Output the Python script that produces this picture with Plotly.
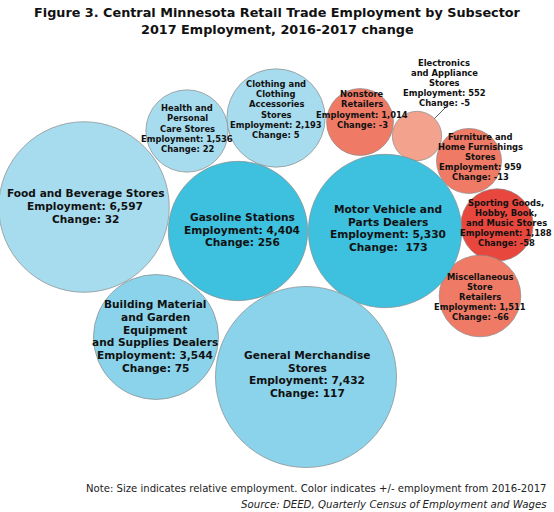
import plotly.graph_objects as go
import math

# ---- data ----
subsectors = [
    "Food and Beverage Stores", "Health and Personal Care Stores",
    "Clothing and Clothing Accessories Stores", "Nonstore Retailers",
    "Electronics and Appliance Stores", "Furniture and Home Furnishings Stores",
    "Sporting Goods, Hobby, Book, and Music Stores", "Miscellaneous Store Retailers",
    "Gasoline Stations", "Motor Vehicle and Parts Dealers",
    "Building Material and Garden Equipment and Supplies Dealers",
    "General Merchandise Stores",
]
employment = [6597, 1536, 2193, 1014, 552, 959, 1188, 1511, 4404, 5330, 3544, 7432]
change = [32, 22, 5, -3, -5, -13, -58, -66, 256, 173, 75, 117]
label_lines = [
    ["Food and Beverage Stores"],
    ["Health and", "Personal", "Care Stores"],
    ["Clothing and", "Clothing", "Accessories", "Stores"],
    ["Nonstore", "Retailers"],
    ["Electronics", "and Appliance", "Stores"],
    ["Furniture and", "Home Furnishings", "Stores"],
    ["Sporting Goods,", "Hobby, Book,", "and Music Stores"],
    ["Miscellaneous", "Store", "Retailers"],
    ["Gasoline Stations"],
    ["Motor Vehicle and", "Parts Dealers"],
    ["Building Material", "and Garden", "Equipment", "and Supplies Dealers"],
    ["General Merchandise", "Stores"],
]
change_fmt = ["{}", "{}", "{}", "{}", "{}", "{}", "{}", "{}", "{}", " {}", "{}", "{}"]

# ---- packed layout (bubble centres, pixel space) and styling ----
cx = [84, 187, 276, 360, 417, 469, 497, 480, 238, 385, 156, 306]
cy = [207, 131, 118, 122, 136, 161, 225, 296, 231, 231, 337, 377]
lab_x = [85, 187, 276, 362, 444, 480, 506, 480, 242, 388, 155, 307]
lab_y = [206, 128.5, 109.5, 109.5, 83, 157, 223, 297, 229.5, 228, 336, 374]
big = [True, False, False, False, False, False, False, False, True, True, True, True]
colors = ["#a7dcee", "#a7dcee", "#a7dcee", "#ef7b66", "#f3a28d", "#ef7b66",
          "#e8473d", "#ef7b66", "#3dc1df", "#3dc1df", "#8ad3ea", "#8ad3ea"]
K = 1.05  # px radius per sqrt(employment)

W, H = 554, 512
fig = go.Figure()
fig.add_trace(go.Scatter(
    x=cx, y=cy, mode="markers",
    marker=dict(size=employment, sizemode="area", sizeref=1 / (2 * K * K),
                color=colors, line=dict(color="#8a8a8a", width=0.7), opacity=1),
    hoverinfo="text", text=subsectors, showlegend=False,
))

ann = []
for i in range(len(subsectors)):
    lines = label_lines[i] + ["Employment: {:,}".format(employment[i]),
                              "Change: " + change_fmt[i].format(change[i])]
    fs = 10.6 if big[i] else 8.4
    sp = 12.7 if big[i] else 10.2
    n = len(lines)
    for j, t in enumerate(lines):
        ann.append(dict(x=lab_x[i], y=lab_y[i] + (j - (n - 1) / 2) * sp, xref="x", yref="y",
                        text="<b>" + t + "</b>", showarrow=False,
                        font=dict(family="DejaVu Sans", size=fs, color="#111111"),
                        xanchor="center", yanchor="middle"))

# leader line for Electronics label
ei = 4
re = K * math.sqrt(employment[ei])
shapes = [dict(type="line", xref="x", yref="y",
               x0=cx[ei] + re * math.cos(math.radians(45)), y0=cy[ei] - re * math.sin(math.radians(45)),
               x1=446, y1=107, line=dict(color="#333333", width=0.8))]

ann.append(dict(x=277, y=12, xref="x", yref="y", showarrow=False,
                text="<b>Figure 3. Central Minnesota Retail Trade Employment by Subsector</b>",
                font=dict(family="DejaVu Sans", size=12.8, color="#111111"), xanchor="center", yanchor="middle"))
ann.append(dict(x=277, y=29, xref="x", yref="y", showarrow=False,
                text="<b>2017 Employment, 2016-2017 change</b>",
                font=dict(family="DejaVu Sans", size=12.8, color="#111111"), xanchor="center", yanchor="middle"))
ann.append(dict(x=549, y=488, xref="x", yref="y", showarrow=False,
                text="Note: Size indicates relative employment. Color indicates +/- employment from 2016-2017",
                font=dict(family="DejaVu Sans", size=10.1, color="#222222"), xanchor="right", yanchor="middle"))
ann.append(dict(x=549, y=504, xref="x", yref="y", showarrow=False,
                text="<i>Source: DEED, Quarterly Census of Employment and Wages</i>",
                font=dict(family="DejaVu Sans", size=10.2, color="#222222"), xanchor="right", yanchor="middle"))

fig.update_layout(
    width=W, height=H, margin=dict(l=0, r=0, t=0, b=0),
    paper_bgcolor="white", plot_bgcolor="white",
    xaxis=dict(range=[0, W], visible=False, fixedrange=True),
    yaxis=dict(range=[H, 0], visible=False, fixedrange=True),
    annotations=ann, shapes=shapes, showlegend=False,
)
fig.write_html("out.html", config={"displayModeBar": False},
               post_script="document.body.style.margin='0';document.body.style.overflow='hidden';")
